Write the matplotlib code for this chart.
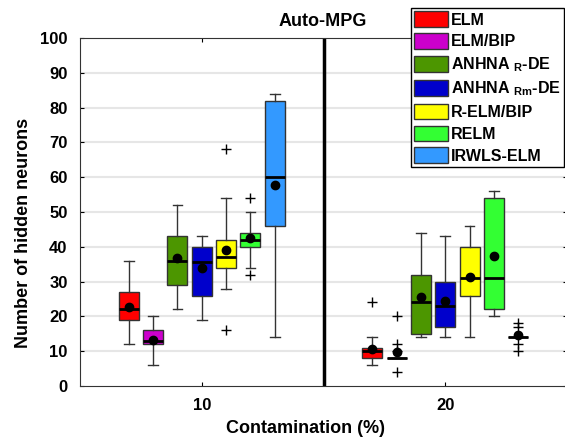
import matplotlib.pyplot as plt
from matplotlib.patches import Patch

plt.rcParams['font.family'] = ['Liberation Sans', 'DejaVu Sans']
plt.rcParams['font.weight'] = 'bold'
plt.rcParams['mathtext.fontset'] = 'custom'
plt.rcParams['mathtext.bf'] = 'Liberation Sans:bold'
plt.rcParams['mathtext.rm'] = 'Liberation Sans:bold'
plt.rcParams['mathtext.default'] = 'bf'

methods = ['ELM', 'ELM/BIP', r'ANHNA $_{R}$-DE', r'ANHNA $_{Rm}$-DE',
           'R-ELM/BIP', 'RELM', 'IRWLS-ELM']
colors = ['#ff0000', '#cc00cc', '#4c9600', '#0000cc', '#ffff00', '#33ff33', '#3399ff']
contamination = ['10', '20']

# per group: [whislo, q1, med, q3, whishi]
stats_10 = [
    [12, 19, 22, 27, 36],
    [6, 12, 13, 16, 20],
    [22, 29, 36, 43, 52],
    [19, 26, 35.5, 40, 43],
    [28, 34, 37, 42, 54],
    [34, 40, 42, 44, 50],
    [14, 46, 60, 82, 84],
]
means_10 = [22.8, 13.3, 36.7, 33.9, 39.1, 42.5, 57.8]
fliers_10 = [[], [], [], [], [16, 68], [32, 54], []]

stats_20 = [
    [6, 8, 10, 11, 14],
    [8, 8, 8, 8, 8],
    [14, 15, 24, 32, 44],
    [14, 17, 23, 30, 43],
    [14, 26, 31, 40, 46],
    [20, 22, 31, 54, 56],
    [14, 14, 14, 14, 14],
]
means_20 = [10.7, 9.7, 25.7, 24.5, 31.4, 37.3, 14.6]
fliers_20 = [[24], [4, 10, 12, 20], [], [], [], [], [10, 12, 17, 18]]

fig = plt.figure(figsize=(5.65, 4.41), dpi=100)
ax = fig.add_axes([80 / 565, 1 - 386 / 441, 487 / 565, 348 / 441])

for v in range(10, 100, 10):
    ax.axhline(v, color='#e6e6e6', lw=1.5, zorder=0)

offsets = [-0.3, -0.2, -0.1, 0.0, 0.1, 0.2, 0.3]
groups = [(1, stats_10, means_10, fliers_10), (2, stats_20, means_20, fliers_20)]
for center, stats, means, fliers in groups:
    for i in range(len(methods)):
        s = stats[i]
        d = dict(whislo=s[0], q1=s[1], med=s[2], q3=s[3], whishi=s[4],
                 mean=means[i], fliers=fliers[i])
        ax.bxp([d], positions=[center + offsets[i]], widths=0.082,
               patch_artist=True, showmeans=True, capwidths=0.04,
               boxprops=dict(facecolor=colors[i], edgecolor='#333333', lw=1),
               medianprops=dict(color='black', lw=2),
               whiskerprops=dict(color='#333333', lw=1),
               capprops=dict(color='#333333', lw=1),
               flierprops=dict(marker='+', markeredgecolor='black', markersize=7,
                               markeredgewidth=1, linestyle='none'),
               meanprops=dict(marker='o', markerfacecolor='black',
                              markeredgecolor='black', markersize=6),
               manage_ticks=False)

ax.axvline(1.5, color='black', lw=2.5)
ax.set_xlim(0.5, 2.5)
ax.set_ylim(0, 100)
ax.set_xticks([1, 2])
ax.set_xticklabels(contamination)
ax.set_yticks(range(0, 101, 10))
ax.tick_params(labelsize=12, direction='in', length=3, top=True, right=True, pad=9)
for lab in ax.get_xticklabels() + ax.get_yticklabels():
    lab.set_fontweight('bold')
for sp in ax.spines.values():
    sp.set_color('#333333')
ax.set_xlabel('Contamination (%)', fontsize=13, fontweight='bold')
ax.set_ylabel('Number of hidden neurons', fontsize=13, fontweight='bold')
ax.xaxis.set_label_coords((306 - 80) / 487, -0.097)
ax.yaxis.set_label_coords(-0.098, 0.44)
ax.set_title('Auto-MPG', fontsize=13, fontweight='bold', pad=9, x=(323 - 80) / 487)

handles = [Patch(facecolor=c, edgecolor='#333333') for c in colors]
leg = fig.legend(handles, methods, loc='upper right',
                 bbox_to_anchor=(564 / 565, 1 - 8 / 441),
                 prop=dict(weight='bold', size=11.5), handlelength=2.1,
                 handleheight=1.15, handletextpad=0.2, labelspacing=0.35,
                 borderpad=0.2, borderaxespad=0, fancybox=False,
                 edgecolor='black', framealpha=1)
leg.get_frame().set_linewidth(1)

fig.savefig('out.png', dpi=100)
